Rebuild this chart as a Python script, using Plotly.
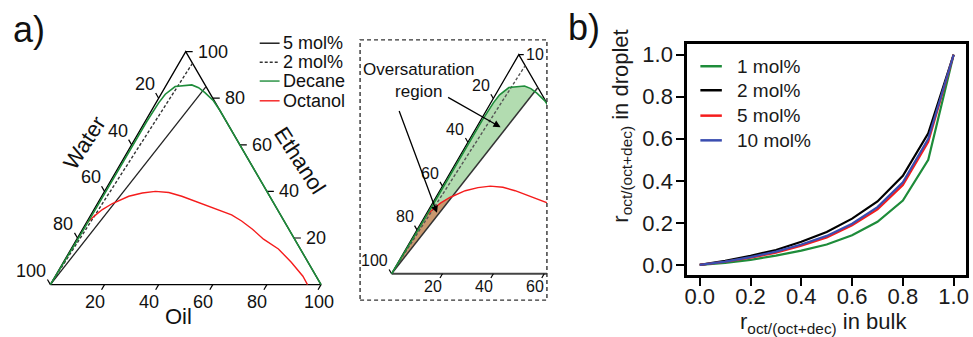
import numpy as np
import plotly.graph_objects as go

# ------------------------------------------------------------------ data
# ternary tick values (mol %)
tern_ticks = [20, 40, 60, 80, 100]
inset_bottom_ticks = [20, 40, 60]

# binodal curves, given as (oil %, ethanol %); water = 100 - oil - ethanol
decane_oil = [0, 0.3, 0.4, 0.5, 0.5, 0.5, 0.5, 0.6, 1.0, 1.6, 3.6, 7.0, 9.4, 12.5, 15.9, 20.8, 25.4, 40, 60, 80, 100]
decane_eth = [0, 10, 20, 30, 40, 50, 60, 70, 78, 81.7, 85.0, 85.5, 85.7, 84.5, 82.4, 78.9, 74.6, 60, 40, 20, 0]
octanol_oil = [0.3, 1.5, 3.1, 5.5, 10.0, 14.3, 18.8, 24.0, 29.6, 38.5, 45.0, 52.0, 57.0, 62.8, 69.0, 76.6, 84.2, 91.5, 95.0]
octanol_eth = [26.5, 29.4, 32.2, 34.8, 37.9, 39.3, 40.0, 39.5, 37.9, 34.8, 32.5, 29.9, 27.3, 23.75, 19.5, 15.3, 9.6, 3.6, 0]
# dilution lines from the water corner
mol5_oil = [0, 15]
mol5_eth = [0, 85]
mol2_oil = [0, 5]
mol2_eth = [0, 95]
legend_a_names = ["5 mol%", "2 mol%", "Decane", "Octanol"]

# panel b
ratio_bulk = [0.0, 0.1, 0.2, 0.3, 0.4, 0.5, 0.6, 0.7, 0.8, 0.9, 1.0]
r_1mol = [0.0, 0.010, 0.024, 0.044, 0.068, 0.097, 0.141, 0.205, 0.306, 0.500, 1.0]
r_2mol = [0.0, 0.019, 0.043, 0.071, 0.110, 0.157, 0.220, 0.302, 0.424, 0.626, 1.0]
r_5mol = [0.0, 0.015, 0.034, 0.058, 0.091, 0.130, 0.188, 0.264, 0.380, 0.585, 1.0]
r_10mol = [0.0, 0.016, 0.037, 0.063, 0.097, 0.138, 0.196, 0.275, 0.393, 0.600, 1.0]
legend_b_names = ["1 mol%", "2 mol%", "5 mol%", "10 mol%"]
b_ticks = [0.0, 0.2, 0.4, 0.6, 0.8, 1.0]

# ------------------------------------------------------------------ style
W, H = 973, 337
FONT = "Liberation Sans, Arial, Helvetica, sans-serif"
GREEN = "#1e8c3a"
RED = "#f51c1c"
BLUE = "#3a4db0"
S3 = np.sqrt(3) / 2


def tern(oil, eth):
    oil = np.asarray(oil, float)
    eth = np.asarray(eth, float)
    return oil + eth / 2, eth * S3


def X(p):
    return p / W


def Y(p):
    return 1 - p / H


def crossing(oil, eth, lo, le, start=1):
    oil = np.asarray(oil, float)
    eth = np.asarray(eth, float)
    f = oil * le - eth * lo
    for i in range(start, len(f) - 1):
        if f[i] <= 0 < f[i + 1]:
            t = f[i] / (f[i] - f[i + 1])
            return i, oil[i] + t * (oil[i + 1] - oil[i]), eth[i] + t * (eth[i + 1] - eth[i])
    return len(f) - 1, oil[-1], eth[-1]


def note(px, py, text, size, angle=0, xanchor="center", color="#111"):
    fig.add_annotation(x=X(px), y=Y(py), xref="paper", yref="paper", text=text, showarrow=False,
                       textangle=angle, xanchor=xanchor, yanchor="middle",
                       font=dict(size=size, color=color, family=FONT))


fig = go.Figure()

# axes geometry: (pixel origin of water corner, pixels per unit, pixel domain box)
MAIN = dict(ox=47.7, oy=286.0, s=2.723, box=(0, 0, 345, 337))
INSET = dict(ox=391.0, oy=275.0, s=2.56, box=(359.3, 38.3, 547.3, 301.7))


def axis_setup(g, name_x, name_y):
    x0, y0, x1, y1 = g["box"]
    xr = [(x0 - g["ox"]) / g["s"], (x1 - g["ox"]) / g["s"]]
    yr = [(g["oy"] - y1) / g["s"], (g["oy"] - y0) / g["s"]]
    common = dict(visible=False, fixedrange=True, showgrid=False, zeroline=False)
    fig.update_layout(**{
        name_x: dict(domain=[X(x0), X(x1)], range=xr, anchor=name_y.replace("axis", ""), **common),
        name_y: dict(domain=[Y(y1), Y(y0)], range=yr, anchor=name_x.replace("axis", ""), **common),
    })


axis_setup(MAIN, "xaxis", "yaxis")
axis_setup(INSET, "xaxis2", "yaxis2")


def line(xa, ya, oil, eth, color, width, dash="solid"):
    x, y = tern(oil, eth)
    fig.add_trace(go.Scatter(x=x, y=y, mode="lines", xaxis=xa, yaxis=ya,
                             line=dict(color=color, width=width, dash=dash),
                             hoverinfo="skip", showlegend=False))


def edge_point(which, t):
    if which == "left":
        return tern(0, 100 - t)
    if which == "bottom":
        return tern(t, 0)
    return tern(100 - t, t)


def ticks(xa, ya, g, which, vals, length=6):
    s = g["s"]
    xs, ys = [], []
    for t in vals:
        ex, ey = edge_point(which, t)
        if which == "left":
            dx, dy = -0.5 * length / s, S3 * length / s
        elif which == "bottom":
            dx, dy = -0.5 * length / s, -S3 * length / s
        else:
            dx, dy = length / s, 0
        xs += [float(ex), float(ex + dx), None]
        ys += [float(ey), float(ey + dy), None]
    fig.add_trace(go.Scatter(x=xs, y=ys, mode="lines", xaxis=xa, yaxis=ya,
                             line=dict(color="black", width=1.2),
                             hoverinfo="skip", showlegend=False))


def tick_labels(xa, ya, which, vals, size, xshift, yshift, xanchor, overrides=None):
    overrides = overrides or {}
    for t in vals:
        ex, ey = edge_point(which, t)
        fig.add_annotation(x=float(ex), y=float(ey), xref=xa, yref=ya, text=str(t),
                           showarrow=False, xanchor=xanchor, yanchor="middle",
                           xshift=overrides.get(t, xshift), yshift=yshift,
                           font=dict(size=size, color="#111", family=FONT))


# ------------------------------------------------------------------ main ternary
tri_oil = [0, 100, 0, 0]
tri_eth = [0, 0, 100, 0]
line("x", "y", tri_oil, tri_eth, "black", 1.3)
ticks("x", "y", MAIN, "left", tern_ticks)
ticks("x", "y", MAIN, "bottom", tern_ticks)
ticks("x", "y", MAIN, "right", tern_ticks, length=7)
line("x", "y", mol2_oil, mol2_eth, "#333", 1.4, "3px,2px")
line("x", "y", mol5_oil, mol5_eth, "#222", 1.3)
line("x", "y", octanol_oil, octanol_eth, RED, 1.4)
line("x", "y", decane_oil, decane_eth, GREEN, 1.6)
tick_labels("x", "y", "left", tern_ticks, 18, -2, 14, "right")
tick_labels("x", "y", "bottom", tern_ticks, 18, -10, -17, "center", overrides={100: -2})
tick_labels("x", "y", "right", tern_ticks, 18, 10, 0, "left")

note(82, 142, "Water", 22, angle=-57)
note(299, 160, "Ethanol", 22, angle=57)
note(177, 318, "Oil", 22)

# legend of panel a
leg_a_style = [("#111", "solid"), ("#333", "3px,2px"), (GREEN, "solid"), (RED, "solid")]
leg_a_rows = [41.7, 61.0, 80.0, 100.0]
for name, (c, d), ry in zip(legend_a_names, leg_a_style, leg_a_rows):
    fig.add_shape(type="line", xref="paper", yref="paper", x0=X(258.3), x1=X(278.3), y0=Y(ry), y1=Y(ry),
                  line=dict(color=c, width=1.4, dash=d))
    note(280, ry, name, 18, xanchor="left")

# ------------------------------------------------------------------ inset
# oversaturation fills
i_d, co, ce = crossing(decane_oil, decane_eth, mol5_oil[1], mol5_eth[1])
g_oil = [0] + list(decane_oil[1:i_d + 1]) + [co, 0]
g_eth = [0] + list(decane_eth[1:i_d + 1]) + [ce, 0]
gx, gy = tern(g_oil, g_eth)
fig.add_trace(go.Scatter(x=gx, y=gy, mode="lines", fill="toself", fillcolor="#b2dcb0",
                         line=dict(width=0), xaxis="x2", yaxis="y2", hoverinfo="skip", showlegend=False))
j_o, oo, oe = crossing(octanol_oil, octanol_eth, mol5_oil[1], mol5_eth[1], start=0)
low = []
for k in range(len(decane_eth)):
    if decane_eth[k] >= octanol_eth[0]:
        break
    low.append(k)
b_oil = [decane_oil[k] for k in low] + list(octanol_oil[:j_o + 1]) + [oo, 0]
b_eth = [decane_eth[k] for k in low] + list(octanol_eth[:j_o + 1]) + [oe, 0]
bx, by = tern(b_oil, b_eth)
fig.add_trace(go.Scatter(x=bx, y=by, mode="lines", fill="toself", fillcolor="#c9986f",
                         line=dict(width=0), xaxis="x2", yaxis="y2", hoverinfo="skip", showlegend=False))

line("x2", "y2", [0, 0, 100], [0, 100, 0], "black", 1.3)
line("x2", "y2", [0, 100], [0, 0], "#444", 2.0)
ticks("x2", "y2", INSET, "left", tern_ticks, length=5)
ticks("x2", "y2", INSET, "bottom", inset_bottom_ticks, length=5)
ticks("x2", "y2", INSET, "right", [100], length=5)
line("x2", "y2", mol2_oil, mol2_eth, "#555", 1.4, "3px,2px")
line("x2", "y2", mol5_oil, mol5_eth, "#333", 1.5)
line("x2", "y2", octanol_oil, octanol_eth, RED, 1.4)
line("x2", "y2", decane_oil, decane_eth, GREEN, 1.6)
tick_labels("x2", "y2", "left", tern_ticks, 16, -1.5, 13, "right")
tick_labels("x2", "y2", "bottom", inset_bottom_ticks, 16, -9.5, -13, "center")
tx, ty = tern(0, 100)
fig.add_annotation(x=float(tx), y=float(ty), xref="x2", yref="y2", text="10", showarrow=False,
                   xanchor="left", yanchor="middle", xshift=5,
                   font=dict(size=16, color="#111", family=FONT))

fig.add_shape(type="rect", xref="paper", yref="paper", x0=X(359.3), x1=X(547.3), y0=Y(301.7), y1=Y(38.3),
              line=dict(color="#333", width=1.4, dash="4px,3px"))
note(419, 79.5, "Oversaturation<br>region", 17)
for (ao, ae), (axp, ayp) in [((9.4, 66.9), (-54, -30.7)), ((3.95, 27.8), (-38.4, -103.3))]:
    hx, hy = tern(ao, ae)
    fig.add_annotation(x=float(hx), y=float(hy), xref="x2", yref="y2", text="", showarrow=True,
                       ax=axp, ay=ayp, arrowhead=2, arrowsize=1.1, arrowwidth=1.3, arrowcolor="black")

# ------------------------------------------------------------------ panel b
for vals, c in [(r_1mol, GREEN), (r_2mol, "black"), (r_5mol, RED), (r_10mol, BLUE)]:
    fig.add_trace(go.Scatter(x=ratio_bulk, y=vals, mode="lines", xaxis="x3", yaxis="y3",
                             line=dict(color=c, width=2.2), hoverinfo="skip", showlegend=False))
bx0, by0, bx1, by1 = 688.3, 42.7, 969.3, 276.7
axb = dict(range=[-0.05, 1.05], showgrid=False, zeroline=False, showline=True, mirror=True,
           linecolor="black", linewidth=2.5, ticks="outside", ticklen=8, tickwidth=1.6,
           tickcolor="black", tickvals=b_ticks, ticktext=[f"{v:.1f}" for v in b_ticks],
           tickfont=dict(size=22, color="#1a1a1a", family=FONT), fixedrange=True)
fig.update_layout(
    xaxis3=dict(domain=[X(bx0), X(bx1)], anchor="y3", ticklabelstandoff=-9, **axb),
    yaxis3=dict(domain=[Y(by1), Y(by0)], anchor="x3", ticklabelstandoff=-1, **axb),
)
note(622, 126, "r<sub>oct/(oct+dec)</sub> in droplet", 22, angle=-90, color="#1a1a1a")
note(826, 325, "r<sub>oct/(oct+dec)</sub> in bulk", 22, color="#1a1a1a")
leg_b_colors = [GREEN, "black", RED, BLUE]
leg_b_rows = [65.0, 89.3, 115.0, 140.0]
for name, c, ry in zip(legend_b_names, leg_b_colors, leg_b_rows):
    fig.add_shape(type="line", xref="paper", yref="paper", x0=X(701.7), x1=X(723.3), y0=Y(ry), y1=Y(ry),
                  line=dict(color=c, width=2.5))
    note(736.7, ry, name, 19, xanchor="left", color="#1a1a1a")

# panel labels
note(26, 28, "a)", 36)
note(585, 26, "b)", 36)

fig.update_layout(width=W, height=H, autosize=False, margin=dict(l=0, r=0, t=0, b=0),
                  paper_bgcolor="white", plot_bgcolor="rgba(0,0,0,0)", showlegend=False)
fig.write_html("out.html", config={"displayModeBar": False},
               post_script="document.body.style.margin='0';document.body.style.overflow='hidden';")
